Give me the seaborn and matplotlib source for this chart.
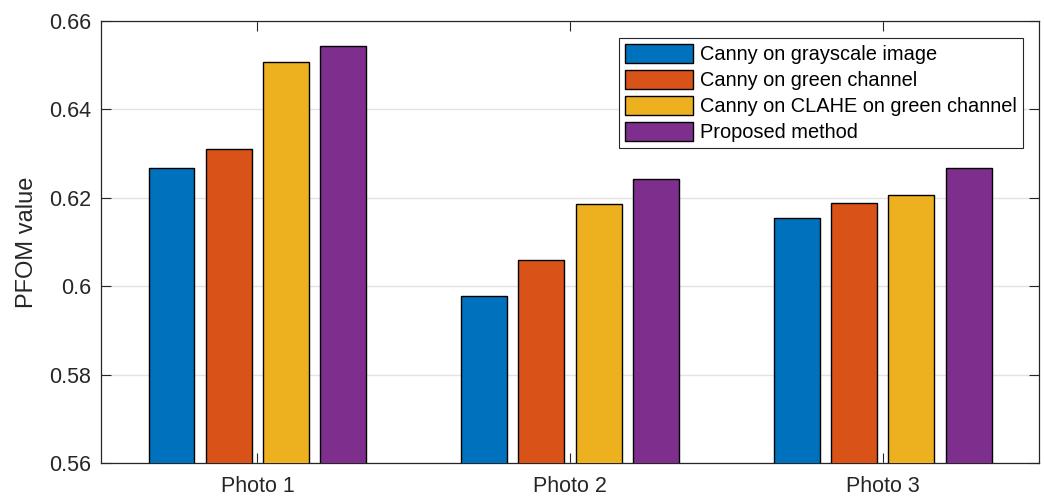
#!/usr/bin/env python3

import pandas as pd
import matplotlib
matplotlib.use('Agg')
import matplotlib.pyplot as plt
import seaborn as sns

sns.set_theme(style="white")
plt.rcParams['font.family'] = ['Liberation Sans', 'DejaVu Sans']

# values
photos = ['Photo 1', 'Photo 2', 'Photo 3']
methods = ['Canny on grayscale image', 'Canny on green channel',
           'Canny on CLAHE on green channel', 'Proposed method']
gray_vals = [0.6268, 0.5977, 0.6153]
green_vals = [0.6310, 0.6058, 0.6188]
clahe_vals = [0.6507, 0.6186, 0.6206]
proposed_vals = [0.6542, 0.6242, 0.6267]
matlab_colors = ['#0072BD', '#D95319', '#EDB120', '#7E2F8E']

rows = []
for method, vals in zip(methods, [gray_vals, green_vals, clahe_vals, proposed_vals]):
    for photo, v in zip(photos, vals):
        rows.append({'photo': photo, 'method': method, 'pfom': v})
df = pd.DataFrame(rows)

dark = '#262626'

fig = plt.figure(figsize=(10.45, 4.99), dpi=100)
ax = fig.add_axes([0.0967, 0.0721, 0.8976, 0.8864])

sns.barplot(data=df, x='photo', y='pfom', hue='method', hue_order=methods,
            palette=matlab_colors, saturation=1, width=0.733, gap=0.2,
            edgecolor='black', linewidth=1.0, ax=ax, zorder=3)

ax.set_xlim(-0.5, 2.5)
ax.set_ylim(0.56, 0.66)
ax.set_yticks([0.56, 0.58, 0.6, 0.62, 0.64, 0.66])
ax.set_yticklabels(['0.56', '0.58', '0.6', '0.62', '0.64', '0.66'])
ax.set_xlabel('')
ax.set_ylabel('PFOM value', fontsize=17, color=dark, labelpad=8)

ax.yaxis.grid(True, color='#e3e3e3', linewidth=1.0, zorder=0)
ax.xaxis.grid(False)
ax.set_axisbelow(True)

ax.tick_params(axis='both', direction='in', length=7, width=0.8, colors=dark,
               labelsize=15.5, top=True, right=True, bottom=True, left=True)
ax.tick_params(axis='x', pad=9)
ax.tick_params(axis='y', pad=7)
for s in ax.spines.values():
    s.set_visible(True)
    s.set_color(dark)
    s.set_linewidth(0.9)

handles, labels = ax.get_legend_handles_labels()
leg = ax.legend(handles, labels, loc='upper right', bbox_to_anchor=(0.983, 0.961),
                borderaxespad=0, fontsize=14.4, frameon=True, fancybox=False,
                framealpha=1, edgecolor=dark, handlelength=3.4, handleheight=1.05,
                labelspacing=0.3, handletextpad=0.35, borderpad=0.3)
leg.get_frame().set_linewidth(0.8)
for t in leg.get_texts():
    t.set_color('black')

fig.savefig('out.png', dpi=100)
